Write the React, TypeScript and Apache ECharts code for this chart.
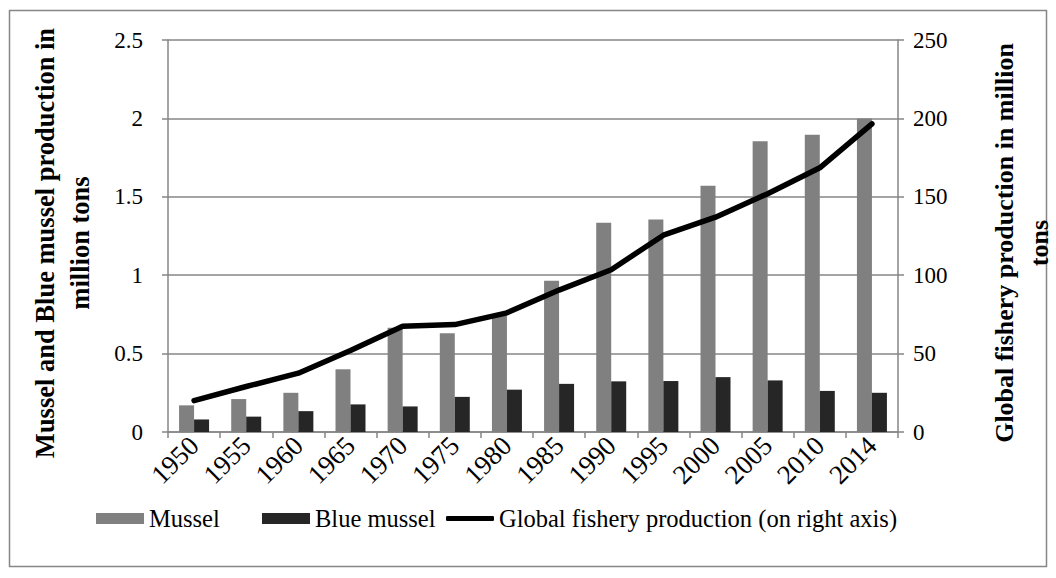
import React, { useEffect, useRef } from "react";
import * as echarts from "echarts";

const years = ["1950", "1955", "1960", "1965", "1970", "1975", "1980", "1985", "1990", "1995", "2000", "2005", "2010", "2014"];
const mussel = [0.17, 0.21, 0.25, 0.4, 0.665, 0.63, 0.745, 0.965, 1.335, 1.355, 1.57, 1.855, 1.895, 2.0];
const blueMussel = [0.08, 0.098, 0.133, 0.176, 0.163, 0.224, 0.27, 0.307, 0.323, 0.325, 0.35, 0.329, 0.262, 0.25];
const globalFishery = [20, 29, 37.5, 52, 67.5, 68.5, 76, 90.5, 103.5, 125.5, 137, 152, 168.5, 196.5];

const leftTitle = "Mussel and Blue mussel production in\nmillion tons";
const rightTitle = "Global fishery production in million\ntons";

const FONT = "'Liberation Serif', 'Times New Roman', serif";
const GRAY = "#868686";

export default function App() {
  const ref = useRef<HTMLDivElement>(null);
  useEffect(() => {
    if (!ref.current) return;
    const chart = echarts.init(ref.current, null, { renderer: "svg" });
    const legendText = { fontFamily: FONT, fontSize: 24.5, color: "#000" };
    chart.setOption({
      animation: false,
      backgroundColor: "#ffffff",
      textStyle: { fontFamily: FONT, color: "#000" },
      grid: { left: 168, right: 158, top: 40, bottom: 146, containLabel: false },
      legend: [
        {
          left: 96,
          top: 506,
          padding: 0,
          itemWidth: 48,
          itemHeight: 11,
          textStyle: legendText,
          data: [{ name: "Mussel", icon: "rect" }],
        },
        {
          left: 262,
          top: 506,
          padding: 0,
          itemWidth: 48,
          itemHeight: 11,
          textStyle: legendText,
          data: [{ name: "Blue mussel", icon: "rect" }],
        },
        {
          left: 446,
          top: 506,
          padding: 0,
          itemWidth: 48,
          itemHeight: 5,
          textStyle: legendText,
          data: [{ name: "Global fishery production (on right axis)", icon: "roundRect" }],
        },
      ],
      xAxis: {
        type: "category",
        data: years,
        axisLine: { show: true, lineStyle: { color: GRAY, width: 1.5 } },
        axisTick: { show: true, length: 6, alignWithLabel: false, lineStyle: { color: GRAY, width: 1.5 } },
        axisLabel: { rotate: 45, fontSize: 27, fontFamily: FONT, color: "#000", margin: 9, interval: 0 },
      },
      yAxis: [
        {
          type: "value",
          min: 0,
          max: 2.5,
          interval: 0.5,
          axisLine: { show: true, lineStyle: { color: GRAY, width: 1.5 } },
          axisTick: { show: true, length: 6, lineStyle: { color: GRAY, width: 1.5 } },
          splitLine: { show: true, lineStyle: { color: GRAY, width: 1.5 } },
          axisLabel: { fontSize: 23, fontFamily: FONT, color: "#000", margin: 25 },
        },
        {
          type: "value",
          min: 0,
          max: 250,
          interval: 50,
          position: "right",
          axisLine: { show: true, lineStyle: { color: GRAY, width: 1.5 } },
          axisTick: { show: true, length: 6, lineStyle: { color: GRAY, width: 1.5 } },
          splitLine: { show: false },
          axisLabel: { fontSize: 23, fontFamily: FONT, color: "#000", margin: 15 },
        },
      ],
      series: [
        {
          name: "Mussel",
          type: "bar",
          data: mussel,
          barWidth: 15,
          barGap: "0%",
          itemStyle: { color: "#808080" },
        },
        {
          name: "Blue mussel",
          type: "bar",
          data: blueMussel,
          barWidth: 15,
          barGap: "0%",
          itemStyle: { color: "#262626" },
        },
        {
          name: "Global fishery production (on right axis)",
          type: "line",
          yAxisIndex: 1,
          data: globalFishery,
          symbol: "none",
          showSymbol: false,
          lineStyle: { color: "#000", width: 5.5, cap: "round", join: "round" },
          itemStyle: { color: "#000" },
        },
      ],
      graphic: [
        {
          type: "rect",
          shape: { x: 9.5, y: 10.5, width: 1037, height: 556 },
          style: { fill: "none", stroke: GRAY, lineWidth: 1.5 },
          silent: true,
        },
        {
          type: "text",
          x: 62,
          y: 243,
          rotation: Math.PI / 2,
          style: {
            text: leftTitle,
            fontFamily: FONT,
            fontSize: 26.5,
            fontWeight: "bold",
            fill: "#000",
            align: "center",
            verticalAlign: "middle",
            lineHeight: 35,
          },
        },
        {
          type: "text",
          x: 1022,
          y: 243,
          rotation: Math.PI / 2,
          style: {
            text: rightTitle,
            fontFamily: FONT,
            fontSize: 26,
            fontWeight: "bold",
            fill: "#000",
            align: "center",
            verticalAlign: "middle",
            lineHeight: 35,
          },
        },
      ],
    });
    return () => chart.dispose();
  }, []);
  return (
    <div
      ref={ref}
      style={{ position: "fixed", left: 0, top: 0, width: 1056, height: 578 }}
    />
  );
}
